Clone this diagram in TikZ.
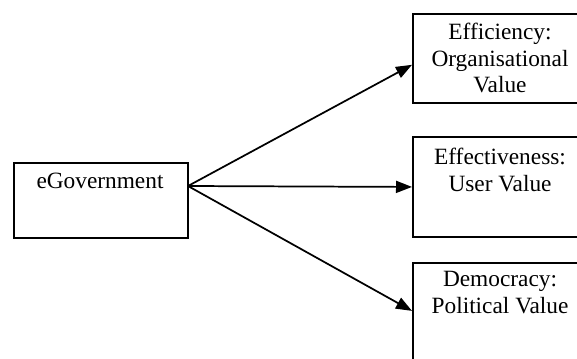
\documentclass[tikz,border=0pt]{standalone}
\usepackage{fontspec}
\setmainfont{Liberation Serif}
\usetikzlibrary{arrows.meta,calc}
\begin{document}
\begin{tikzpicture}[x=0.75pt,y=-0.75pt,
  box/.style={draw, line width=1.4pt, rectangle, inner sep=0pt, anchor=north west},
  caption/.style={anchor=north, align=center, inner sep=0pt,
    font=\fontsize{17.5}{19.9}\selectfont},
  link/.style={line width=1.3pt, -{Triangle[length=12pt,width=9pt]}}]
\clip (0,0) rectangle (577,358);
% boxes
\node[box, minimum width=130.5pt, minimum height=56.25pt] (gov) at (13,162) {};
\node[box, minimum width=132pt, minimum height=66.75pt] (eff) at (412,13) {};
\node[box, minimum width=132pt, minimum height=75pt] (use) at (412,136) {};
\node[box, minimum width=132pt, minimum height=75pt] (dem) at (412,262) {};
% captions
\node[caption] (govt) at (100,173) {eGovernment};
\node[caption] (efft) at (500,23) {Efficiency:\\Organisational\\Value};
\node[caption] (uset) at (500,148) {Effectiveness:\\User Value};
\node[caption] (demt) at (500,271) {Democracy:\\Political Value};
% connectors
\coordinate (src) at (188,186);
\draw[link] (src) -- ($(eff.north west)!0.57!(eff.south west)$);
\draw[link] (src) -- ($(use.north west)!0.5!(use.south west)$);
\draw[link] (src) -- ($(dem.north west)!0.48!(dem.south west)$);
\end{tikzpicture}
\end{document}
